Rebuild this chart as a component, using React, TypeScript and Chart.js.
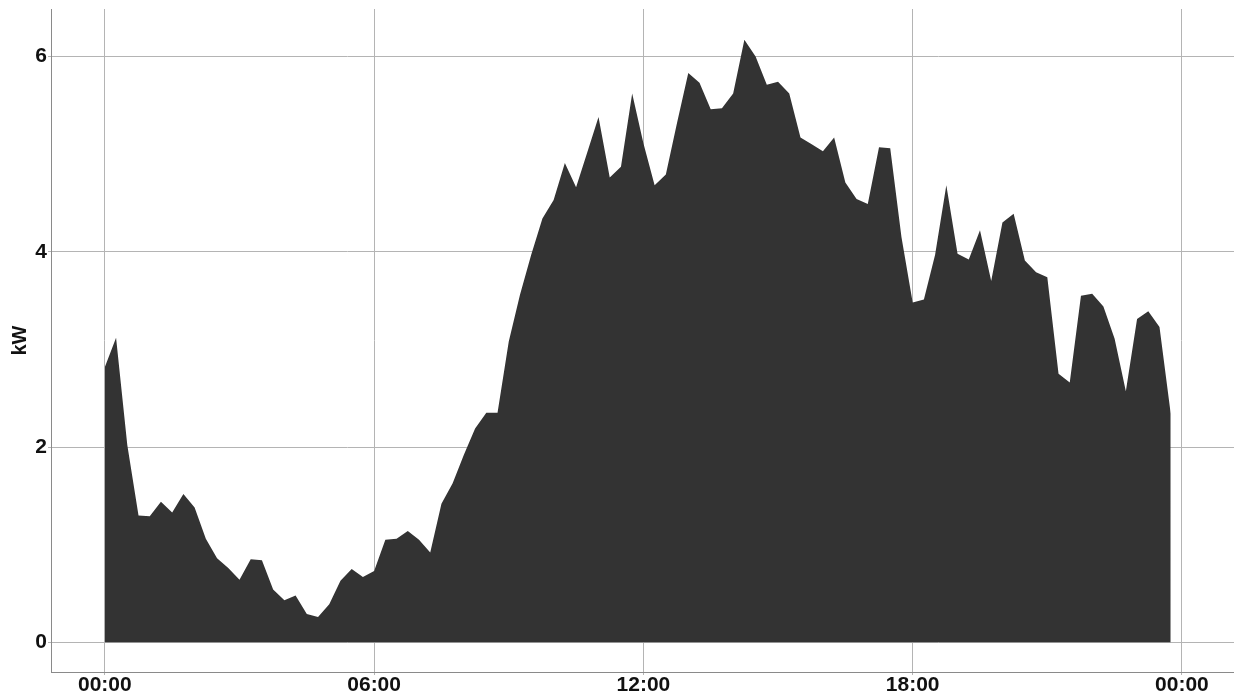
import React, { useEffect, useRef } from "react";
import { Chart, registerables } from "chart.js";

Chart.register(...registerables);

// 15-minute intervals over one day (hours)
const STEP_HOURS = 0.25;
const powerKW: number[] = [
  2.82, 3.12, 2.02, 1.30, 1.29, 1.44, 1.33, 1.52, 1.38, 1.06, 0.86, 0.76,
  0.64, 0.85, 0.84, 0.54, 0.43, 0.48, 0.29, 0.26, 0.39, 0.63, 0.75, 0.67,
  0.73, 1.05, 1.06, 1.14, 1.05, 0.92, 1.42, 1.63, 1.92, 2.19, 2.35, 2.35,
  3.08, 3.56, 3.97, 4.34, 4.53, 4.91, 4.66, 5.02, 5.38, 4.76, 4.87, 5.62,
  5.11, 4.68, 4.79, 5.32, 5.83, 5.73, 5.46, 5.47, 5.62, 6.17, 6.00, 5.71,
  5.74, 5.62, 5.17, 5.10, 5.03, 5.17, 4.71, 4.54, 4.49, 5.07, 5.06, 4.15,
  3.48, 3.51, 3.97, 4.68, 3.98, 3.92, 4.22, 3.70, 4.30, 4.39, 3.91, 3.79,
  3.74, 2.75, 2.66, 3.55, 3.57, 3.44, 3.11, 2.57, 3.31, 3.39, 3.23, 2.34,
];
const xTickHours: number[] = [0, 6, 12, 18, 24];
const xTickLabels: string[] = ["00:00", "06:00", "12:00", "18:00", "00:00"];
const yTickValues: number[] = [0, 2, 4, 6];
const yAxisTitle = "kW";

export default function App() {
  const ref = useRef<HTMLCanvasElement | null>(null);

  useEffect(() => {
    const canvas = ref.current;
    if (!canvas) return;
    const points = powerKW.map((v, i) => ({ x: i * STEP_HOURS, y: v }));
    const font = { family: "'Liberation Sans', Arial, sans-serif", weight: "bold" as const };
    const chart = new Chart(canvas, {
      type: "line",
      data: {
        datasets: [
          {
            data: points,
            backgroundColor: "#333333",
            borderColor: "#333333",
            borderWidth: 0,
            pointRadius: 0,
            tension: 0,
            fill: "origin",
          },
        ],
      },
      options: {
        responsive: false,
        animation: false,
        events: [],
        layout: { padding: { top: 9, right: 0, bottom: 0, left: 0 } },
        plugins: { legend: { display: false }, tooltip: { enabled: false } },
        scales: {
          x: {
            type: "linear",
            min: -1.2,
            max: 25.16,
            afterBuildTicks: (scale: any) => {
              scale.ticks = xTickHours.map((v) => ({ value: v }));
            },
            afterFit: (scale: any) => {
              scale.height = 25;
              scale.paddingLeft = 0;
              scale.paddingRight = 0;
            },
            ticks: {
              autoSkip: false,
              maxRotation: 0,
              padding: 0,
              color: "#111",
              font: { ...font, size: 21, lineHeight: 1 },
              callback: (v: any) => {
                const idx = xTickHours.indexOf(Number(v));
                return idx >= 0 ? xTickLabels[idx] : "";
              },
            },
            grid: { color: "#b4b4b4", lineWidth: 1, tickLength: 3, drawTicks: true },
            border: { display: true, color: "#8a8a8a", width: 1 },
          },
          y: {
            type: "linear",
            min: -0.304,
            max: 6.486,
            afterBuildTicks: (scale: any) => {
              scale.ticks = yTickValues.map((v) => ({ value: v }));
            },
            afterFit: (scale: any) => {
              scale.width = 51;
              scale.paddingTop = 0;
              scale.paddingBottom = 0;
            },
            ticks: {
              padding: 1,
              color: "#111",
              font: { ...font, size: 21 },
            },
            title: {
              display: true,
              text: yAxisTitle,
              color: "#111",
              font: { ...font, size: 20, lineHeight: 1.2 },
              padding: { top: 8, bottom: 0 },
            },
            grid: { color: "#b4b4b4", lineWidth: 1, tickLength: 3, drawTicks: true },
            border: { display: true, color: "#8a8a8a", width: 1 },
          },
        },
      },
    });
    return () => chart.destroy();
  }, []);

  return (
    <div style={{ position: "fixed", left: 0, top: 0, width: 1234, height: 697, background: "#fff" }}>
      <canvas ref={ref} width={1234} height={697} style={{ display: "block" }} />
    </div>
  );
}
